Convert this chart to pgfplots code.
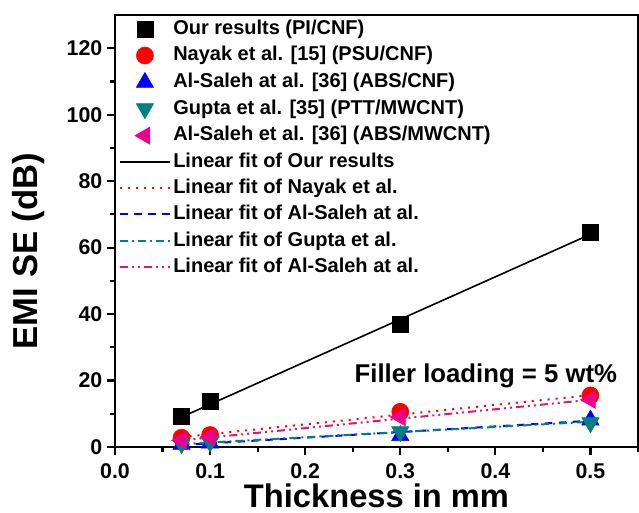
\documentclass[border=0pt]{standalone}
\usepackage{pgfplots}
\pgfplotsset{compat=1.18}
\usepackage{fontspec}
\setmainfont{Liberation Sans}
\definecolor{myteal}{rgb}{0,0.5,0.5}
\definecolor{mypink}{rgb}{0.9,0.08,0.43}
\begin{document}
\begin{tikzpicture}
\begin{axis}[
  name=ax,
  scale only axis,
  width=392.25pt, height=324pt,
  xmin=0, xmax=0.55, ymin=0, ymax=130,
  xtick={0,0.1,0.2,0.3,0.4,0.5},
  minor xtick={0.05,0.15,0.25,0.35,0.45,0.55},
  ytick={0,20,40,60,80,100,120},
  minor ytick={10,30,50,70,90,110},
  xtick pos=left, ytick pos=left,
  tick align=outside,
  major tick length=6pt, minor tick length=4pt,
  every tick/.style={black, line width=1.6pt},
  axis line style={line width=2.2pt},
  /pgf/number format/assume math mode=true,
  xticklabel style={/pgf/number format/fixed, /pgf/number format/precision=1, /pgf/number format/fixed zerofill, yshift=-3pt},
  ticklabel style={font=\fontsize{16}{16}\selectfont\bfseries},
  xlabel={Thickness in mm},
  ylabel={EMI SE (dB)},
  xlabel style={font=\fontsize{24.5}{24.5}\selectfont\bfseries, yshift=3pt},
  ylabel style={font=\fontsize{26}{26}\selectfont\bfseries, yshift=10pt, xshift=-15pt},
  legend cell align=left,
  legend style={at={(0,1)}, anchor=north west, draw=none, fill=none,
    font=\fontsize{15}{15}\selectfont\bfseries, yshift=-1.5pt,
    nodes={inner ysep=0pt, inner xsep=2pt, text height=11pt, text depth=3pt},
    row sep=5.7pt},
  legend image code/.code={\draw[mark repeat=2,mark phase=2,#1] plot coordinates {(0cm,0cm) (0.65cm,0cm) (1.3cm,0cm)};},
]
\addplot[only marks, mark=square*, mark size=6pt, black] coordinates {(0.07,9.2) (0.1,13.7) (0.3,37) (0.5,64.5)};
\addlegendentry{Our results (PI/CNF)}
\addplot[only marks, mark=*, mark size=6.4pt, red] coordinates {(0.07,2.8) (0.1,3.6) (0.3,10.6) (0.5,15.5)};
\addlegendentry{Nayak et al. [15] (PSU/CNF)}
\addplot[only marks, mark=triangle*, mark size=7.5pt, blue] coordinates {(0.07,0.8) (0.1,1.2) (0.3,3.4) (0.5,8.1)};
\addlegendentry{Al-Saleh at al. [36] (ABS/CNF)}
\addplot[only marks, mark=triangle*, mark size=7.5pt, myteal, mark options={rotate=180}] coordinates {(0.07,1.0) (0.1,1.5) (0.3,4.6) (0.5,7.3)};
\addlegendentry{Gupta et al. [35] (PTT/MWCNT)}
\addplot[only marks, mark=triangle*, mark size=7.5pt, magenta, mark options={rotate=90}] coordinates {(0.07,2.0) (0.1,3.0) (0.3,9.0) (0.5,14.2)};
\addlegendentry{Al-Saleh et al. [36] (ABS/MWCNT)}
\addplot[black, line width=1.2pt, no marks] coordinates {(0.07,9.0) (0.5,64.0)};
\addlegendentry{Linear fit of Our results}
\addplot[red, line width=1.5pt, dash pattern=on 1.5pt off 4.5pt, no marks] coordinates {(0.07,3.0) (0.5,15.6)};
\addlegendentry{Linear fit of Nayak et al.}
\addplot[blue, line width=1.5pt, dash pattern=on 5.5pt off 5pt, no marks] coordinates {(0.07,0.6) (0.5,7.9)};
\addlegendentry{Linear fit of Al-Saleh at al.}
\addplot[myteal, line width=1.5pt, dash pattern=on 6pt off 3pt on 1.5pt off 3pt, no marks] coordinates {(0.07,0.9) (0.5,7.6)};
\addlegendentry{Linear fit of Gupta et al.}
\addplot[mypink, line width=1.5pt, dash pattern=on 6pt off 3pt on 1.5pt off 3pt on 1.5pt off 3pt, no marks] coordinates {(0.07,2.0) (0.5,14.2)};
\addlegendentry{Linear fit of Al-Saleh at al.}
\node[font=\fontsize{19.3}{19.3}\selectfont\bfseries] at (axis cs:0.39,21.5) {Filler loading = 5 wt\%};
\end{axis}
\pgfresetboundingbox
\path[use as bounding box] (ax.south west) ++(-86.25pt,-49.5pt) rectangle ++(479.25pt,384.75pt);
\end{tikzpicture}
\end{document}
